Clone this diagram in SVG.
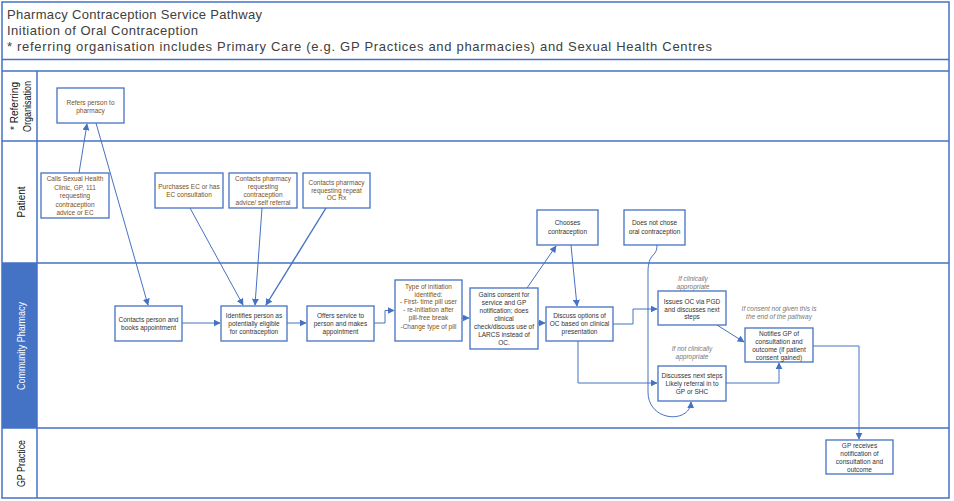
<svg xmlns="http://www.w3.org/2000/svg" width="954" height="501" viewBox="0 0 954 501">
<style>
.frame{fill:none;stroke:#4472C4;stroke-width:1.5}
.lane{stroke:#4472C4;stroke-width:1.5}
.box{fill:#fff;stroke:#4472C4;stroke-width:1.3}
.t{font-family:"Liberation Sans",Arial,sans-serif;font-size:6.5px;fill:#333;text-anchor:middle}
.o{fill:#7a5020}
.n{font-family:"Liberation Sans",Arial,sans-serif;font-size:6.5px;font-style:italic;fill:#777;text-anchor:middle}
.title{font-family:"Liberation Sans",Arial,sans-serif;font-size:13px;fill:#404040}
.lbl{font-family:"Liberation Sans",Arial,sans-serif;font-size:11px;fill:#111;text-anchor:middle}
.c{fill:none;stroke:#4472C4;stroke-width:1}
</style>
<defs>
<marker id="ah" viewBox="0 0 10 10" refX="9" refY="5" markerWidth="7" markerHeight="7" markerUnits="userSpaceOnUse" orient="auto">
<path d="M0,0 L10,5 L0,10 z" fill="#4472C4"/>
</marker>
</defs>
<rect width="954" height="501" fill="#fff"/>
<g id="frame">
<rect x="2" y="2" width="947" height="496" class="frame"/>
<rect x="2" y="263" width="35" height="165" fill="#4472C4"/>
<line x1="2" y1="59.5" x2="949" y2="59.5" class="lane"/>
<line x1="2" y1="71" x2="949" y2="71" class="lane"/>
<line x1="2" y1="141" x2="949" y2="141" class="lane"/>
<line x1="2" y1="263" x2="949" y2="263" class="lane"/>
<line x1="2" y1="428" x2="949" y2="428" class="lane"/>
<line x1="37" y1="71" x2="37" y2="498" class="lane"/>
<text class="title" x="7" y="19" textLength="255" lengthAdjust="spacing">Pharmacy Contraception Service Pathway</text>
<text class="title" x="7" y="35" textLength="191" lengthAdjust="spacing">Initiation of Oral Contraception</text>
<text class="title" x="7" y="51" textLength="705" lengthAdjust="spacing">* referring organisation includes Primary Care (e.g. GP Practices and pharmacies) and Sexual Health Centres</text>
<text class="lbl" transform="translate(17.5,106) rotate(-90)" textLength="48" lengthAdjust="spacingAndGlyphs">* Referring</text>
<text class="lbl" transform="translate(31,106.5) rotate(-90)" textLength="51" lengthAdjust="spacingAndGlyphs">Organisation</text>
<text class="lbl" transform="translate(25,202) rotate(-90)" textLength="31" lengthAdjust="spacingAndGlyphs">Patient</text>
<text class="lbl" transform="translate(25,346) rotate(-90)" style="fill:#fff" textLength="88" lengthAdjust="spacingAndGlyphs">Community Pharmacy</text>
<text class="lbl" transform="translate(25,463.5) rotate(-90)" textLength="47" lengthAdjust="spacingAndGlyphs">GP Practice</text>
</g>
<g id="connectors">
<line class="c" x1="79" y1="173" x2="87" y2="124" marker-end="url(#ah)"/>
<line class="c" x1="96" y1="123" x2="148" y2="305" marker-end="url(#ah)"/>
<line class="c" x1="190" y1="208" x2="243" y2="305" marker-end="url(#ah)"/>
<line class="c" x1="262" y1="208" x2="255" y2="305" marker-end="url(#ah)"/>
<line class="c" x1="326" y1="208" x2="266" y2="305" marker-end="url(#ah)" style="stroke-width:1.4"/>
<line class="c" x1="182" y1="323" x2="220" y2="323" marker-end="url(#ah)"/>
<line class="c" x1="287" y1="323" x2="306" y2="323" marker-end="url(#ah)"/>
<path class="c" d="M374,323 H385 V310.5 H394" marker-end="url(#ah)"/>
<line class="c" x1="462" y1="318" x2="469" y2="318" marker-end="url(#ah)"/>
<line class="c" x1="527" y1="288" x2="556" y2="246" marker-end="url(#ah)"/>
<line class="c" x1="571" y1="245" x2="577" y2="306" marker-end="url(#ah)"/>
<line class="c" x1="538" y1="323" x2="545" y2="323" marker-end="url(#ah)"/>
<path class="c" d="M613,324 H633 V309 H657" marker-end="url(#ah)"/>
<path class="c" d="M578,341 V383 H657" marker-end="url(#ah)"/>
<line class="c" x1="717" y1="325" x2="744" y2="342" marker-end="url(#ah)"/>
<path class="c" d="M726,383 H779 V363" marker-end="url(#ah)"/>
<path class="c" d="M813,346 H859 V439" marker-end="url(#ah)"/>
<path class="c" d="M657,245 C657,258 648,252 648,272 L648,392 C648,422 690,424 691,402" marker-end="url(#ah)"/>
</g>
<g id="n-refers">
<rect class="box" x="57" y="88" width="67" height="35"/>
<text class="t o" x="90.5" y="105">Refers person to</text>
<text class="t o" x="90.5" y="113">pharmacy</text>
</g>
<g id="n-calls">
<rect class="box" x="41" y="173" width="68" height="45"/>
<text class="t o" x="75" y="181">Calls Sexual Health</text>
<text class="t o" x="75" y="189.5">Clinic, GP, 111</text>
<text class="t o" x="75" y="198">requesting</text>
<text class="t o" x="75" y="206.5">contraception</text>
<text class="t o" x="75" y="215">advice or  EC</text>
</g>
<g id="n-purchases">
<rect class="box" x="155" y="173" width="68" height="35"/>
<text class="t o" x="189" y="189">Purchases EC or has</text>
<text class="t o" x="189" y="197">EC consultation</text>
</g>
<g id="n-contacts-advice">
<rect class="box" x="229" y="173" width="68" height="35"/>
<text class="t o" x="263" y="181">Contacts pharmacy</text>
<text class="t o" x="263" y="189">requesting</text>
<text class="t o" x="263" y="197">contraception</text>
<text class="t o" x="263" y="205">advice/ self referral</text>
</g>
<g id="n-contacts-repeat">
<rect class="box" x="303" y="173" width="67" height="35"/>
<text class="t o" x="336.5" y="185">Contacts pharmacy</text>
<text class="t o" x="336.5" y="192.5">requesting repeat</text>
<text class="t o" x="336.5" y="200">OC Rx</text>
</g>
<g id="n-contacts-person">
<rect class="box" x="115" y="306" width="67" height="35"/>
<text class="t" x="148.5" y="322">Contacts person and</text>
<text class="t" x="148.5" y="330">books appointment</text>
</g>
<g id="n-identifies">
<rect class="box" x="221" y="306" width="66" height="35"/>
<text class="t" x="254" y="318">Identifies person as</text>
<text class="t" x="254" y="326">potentially eligible</text>
<text class="t" x="254" y="334">for contraception</text>
</g>
<g id="n-offers">
<rect class="box" x="307" y="306" width="67" height="35"/>
<text class="t" x="340.5" y="318">Offers service to</text>
<text class="t" x="340.5" y="326">person and makes</text>
<text class="t" x="340.5" y="334">appointment</text>
</g>
<g id="n-type">
<rect class="box" x="395" y="280" width="67" height="61"/>
<text class="t o" x="428.5" y="289">Type of initiation</text>
<text class="t o" x="428.5" y="296.5">identified:</text>
<text class="t o" x="428.5" y="304">- First- time pill user</text>
<text class="t o" x="428.5" y="312">- re-initiation after</text>
<text class="t o" x="428.5" y="320">pill-free break</text>
<text class="t o" x="428.5" y="329">-Change type of pill</text>
</g>
<g id="n-gains">
<rect class="box" x="470" y="288" width="68" height="61"/>
<text class="t" x="504" y="296.5">Gains consent for</text>
<text class="t" x="504" y="304.5">service and GP</text>
<text class="t" x="504" y="313">notification; does</text>
<text class="t" x="504" y="321">clinical</text>
<text class="t" x="504" y="329">check/discuss use of</text>
<text class="t" x="504" y="337">LARCS instead of</text>
<text class="t" x="504" y="345">OC.</text>
</g>
<g id="n-chooses">
<rect class="box" x="537" y="210" width="61" height="35"/>
<text class="t" x="567.5" y="225">Chooses</text>
<text class="t" x="567.5" y="234">contraception</text>
</g>
<g id="n-not-chose">
<rect class="box" x="624" y="210" width="61" height="35"/>
<text class="t" x="654.5" y="225">Does not chose</text>
<text class="t" x="654.5" y="234">oral contraception</text>
</g>
<g id="n-discuss">
<rect class="box" x="546" y="307" width="67" height="34"/>
<text class="t" x="579.5" y="318">Discuss options of</text>
<text class="t" x="579.5" y="326">OC based on clinical</text>
<text class="t" x="579.5" y="334">presentation</text>
</g>
<g id="n-issues">
<text class="n" x="693" y="281">If clinically</text>
<text class="n" x="693" y="289">appropriate</text>
<rect class="box" x="658" y="291" width="68" height="34"/>
<text class="t" x="692" y="304">Issues OC via PGD</text>
<text class="t" x="692" y="311.5">and discusses next</text>
<text class="t" x="692" y="319">steps</text>
</g>
<g id="n-notifies">
<text class="n" x="779" y="311">If consent not given this is</text>
<text class="n" x="779" y="319">the end of the pathway</text>
<rect class="box" x="745" y="328" width="68" height="34"/>
<text class="t" x="779" y="335.5">Notifies GP of</text>
<text class="t" x="779" y="343.5">consultation and</text>
<text class="t" x="779" y="351.5">outcome (if patient</text>
<text class="t" x="779" y="359.5">consent gained)</text>
</g>
<g id="n-next-steps">
<text class="n" x="692" y="351">If not clinically</text>
<text class="n" x="692" y="359">appropriate</text>
<rect class="box" x="658" y="366" width="68" height="35"/>
<text class="t" x="692" y="378">Discusses next steps</text>
<text class="t" x="692" y="386">Likely referral in to</text>
<text class="t" x="692" y="394">GP or SHC</text>
</g>
<g id="n-gp-receives">
<rect class="box" x="826" y="440" width="67" height="34"/>
<text class="t" x="859.5" y="448">GP receives</text>
<text class="t" x="859.5" y="456">notification of</text>
<text class="t" x="859.5" y="464">consultation and</text>
<text class="t" x="859.5" y="472">outcome</text>
</g>
</svg>
